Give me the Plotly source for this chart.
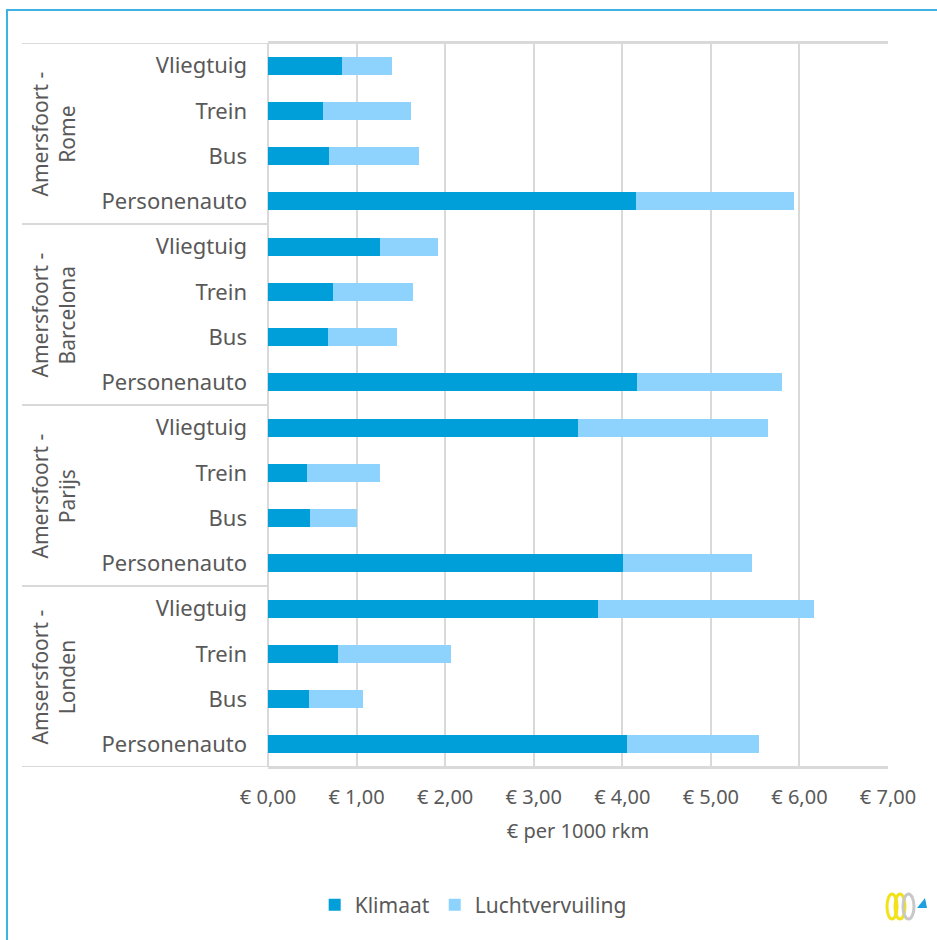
import plotly.graph_objects as go

# ---- data (bottom to top order of groups) ----
routes = ["Amsersfoort -<br>Londen", "Amersfoort -<br>Parijs",
          "Amersfoort -<br>Barcelona", "Amersfoort -<br>Rome"]
modes = ["Personenauto", "Bus", "Trein", "Vliegtuig"]

klimaat_londen = [4.05, 0.46, 0.79, 3.73]
klimaat_parijs = [4.01, 0.47, 0.445, 3.50]
klimaat_barcelona = [4.17, 0.68, 0.73, 1.27]
klimaat_rome = [4.16, 0.69, 0.62, 0.83]

lucht_londen = [1.49, 0.61, 1.28, 2.43]
lucht_parijs = [1.46, 0.53, 0.825, 2.14]
lucht_barcelona = [1.63, 0.78, 0.91, 0.65]
lucht_rome = [1.78, 1.01, 0.99, 0.57]

x_ticks = [0, 1, 2, 3, 4, 5, 6, 7]
x_ticktext = ["€ 0,00", "€ 1,00", "€ 2,00", "€ 3,00", "€ 4,00", "€ 5,00", "€ 6,00", "€ 7,00"]

klimaat = klimaat_londen + klimaat_parijs + klimaat_barcelona + klimaat_rome
lucht = lucht_londen + lucht_parijs + lucht_barcelona + lucht_rome
labels = modes * len(routes)
ypos = list(range(len(labels)))

C_K = "#009FD9"
C_L = "#8ED3FE"
TXT = "#595959"
GRID = "#D9D9D9"
FONT = "Noto Sans"

W, H = 937, 940
L, R, T, B = 268, 888, 43, 767


def PX(px):
    return (px - L) / (R - L)


def PY(py):
    return (B - py) / (B - T)


fig = go.Figure()
fig.add_trace(go.Bar(y=ypos, x=klimaat, orientation="h", name="Klimaat",
                     marker=dict(color=C_K, line=dict(width=0)), width=0.4))
fig.add_trace(go.Bar(y=ypos, x=lucht, orientation="h", name="Luchtvervuiling",
                     marker=dict(color=C_L, line=dict(width=0)), width=0.4))

shapes = []
n = len(modes)
# group separators in label area
for g in range(len(routes) + 1):
    yb = g * n - 0.5
    x1 = 1.0 if g in (0, len(routes)) else 0.0
    shapes.append(dict(type="line", xref="paper", yref="y", x0=PX(22), x1=x1,
                       y0=yb, y1=yb, line=dict(color=GRID, width=2), layer="below"))
# left axis line
shapes.append(dict(type="line", xref="paper", yref="paper", x0=0, x1=0, y0=0, y1=1,
                   line=dict(color=GRID, width=2), layer="below"))
# outer frame
shapes.append(dict(type="rect", xref="paper", yref="paper", x0=PX(7), x1=PX(960),
                   y0=PY(970), y1=PY(10), line=dict(color="#3DB3E3", width=2)))
# logo (decoration)
shapes.append(dict(type="circle", xref="paper", yref="paper", x0=PX(887), x1=PX(897),
                   y0=PY(919), y1=PY(894), line=dict(color="#F2E21B", width=3)))
shapes.append(dict(type="circle", xref="paper", yref="paper", x0=PX(895), x1=PX(905),
                   y0=PY(919), y1=PY(894), line=dict(color="#F2E21B", width=3)))
shapes.append(dict(type="circle", xref="paper", yref="paper", x0=PX(903), x1=PX(914),
                   y0=PY(919), y1=PY(894), line=dict(color="#C8C8C8", width=3)))
shapes.append(dict(type="path", xref="paper", yref="paper",
                   path=f"M {PX(917)} {PY(908)} L {PX(927)} {PY(908)} L {PX(925)} {PY(898)} Z",
                   fillcolor="#1BA1E2", line=dict(width=0)))

annotations = []
for g, r in enumerate(routes):
    annotations.append(dict(text=r, xref="paper", yref="y", x=PX(53), y=g * n + (n - 1) / 2,
                            textangle=-90, showarrow=False, xanchor="center", yanchor="middle",
                            font=dict(family=FONT, size=21, color=TXT)))

fig.update_layout(
    barmode="stack",
    width=W, height=H,
    margin=dict(l=L, r=W - R, t=T, b=H - B),
    paper_bgcolor="white", plot_bgcolor="white",
    font=dict(family=FONT, size=20, color=TXT),
    xaxis=dict(range=[0, 7], tickvals=x_ticks, ticktext=x_ticktext, showgrid=True,
               gridcolor=GRID, gridwidth=2, zeroline=False, showline=True,
               linecolor=GRID, linewidth=2, mirror=True, ticks="", ticklabelstandoff=11,
               tickfont=dict(family=FONT, size=20, color=TXT),
               title=dict(text="€ per 1000 rkm", standoff=15,
                          font=dict(family=FONT, size=20, color=TXT)),
               fixedrange=True),
    yaxis=dict(range=[-0.5, len(labels) - 0.5], tickvals=ypos, ticktext=labels,
               showgrid=False, zeroline=False, showline=False, ticks="",
               tickfont=dict(family=FONT, size=22, color=TXT),
               ticklabelstandoff=20, fixedrange=True),
    legend=dict(orientation="h", xref="container", yref="container", x=0.505, y=0.037,
                xanchor="center", yanchor="middle", font=dict(family=FONT, size=21, color=TXT),
                itemclick=False, itemdoubleclick=False, traceorder="normal", itemwidth=30),
    shapes=shapes,
    annotations=annotations,
    bargap=0.6,
)

fig.write_html("out.html", config={"displayModeBar": False},
               post_script="document.body.style.margin='0';document.body.style.overflow='hidden';")
